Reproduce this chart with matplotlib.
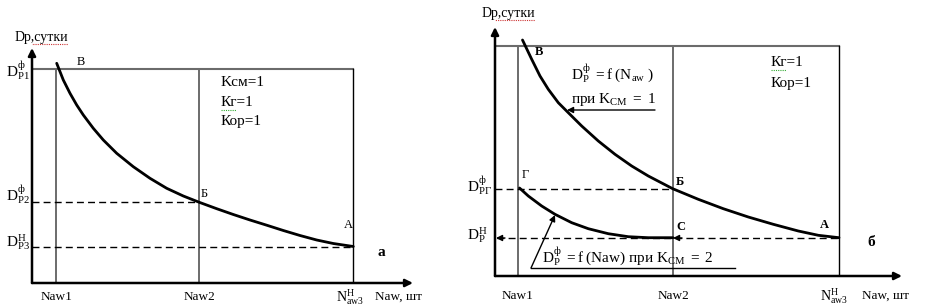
"""
schematic of service duration Dp versus the number of vehicles Naw:
panel a for one shift, panel b for one and two shifts
"""
import matplotlib
matplotlib.use('Agg')
import matplotlib.pyplot as plt

plt.rcParams['font.family'] = ['Liberation Serif', 'DejaVu Serif']
plt.rcParams['mathtext.fontset'] = 'custom'
plt.rcParams['mathtext.rm'] = 'Liberation Serif'
plt.rcParams['mathtext.it'] = 'Liberation Serif:italic'
plt.rcParams['mathtext.bf'] = 'Liberation Serif:bold'

# panel a, schematic units measured from the axis origin
A_NAW = [24, 167, 321]            # Naw1, Naw2, N^H_aw3
A_LEVELS = [214, 81, 36]          # D^ф_P1, D^ф_P2, D^H_P3
A_CURVE_N = [24.7, 31.3, 38, 44.7, 51.3, 61.3, 71.3, 84.7, 101.3, 118, 134.7, 151.3, 167,
             184.7, 201.3, 218, 234.7, 251.3, 268, 284.7, 301.3, 321.3]
A_CURVE_D = [219.7, 203, 189.7, 178, 168, 154.7, 143, 129.7, 116.3, 104.7, 94.7, 87, 80.8,
             74.3, 68.5, 63, 57.8, 52.5, 47.5, 43, 39.5, 36.5]

# panel b
B_NAW = [23, 178, 344]            # Naw1, Naw2, N^H_aw3
B_LEVELS = [230, 87, 38]          # top, D^ф_РГ, D^H_P
B_CURVE1_N = [27.5, 36.7, 45, 53.3, 63.3, 73.3, 86.7, 103.3, 120, 136.7, 153.3, 177.7,
              203.3, 228.3, 253.3, 278.3, 303.3, 323.3, 344]
B_CURVE1_D = [236, 216.7, 200, 186.7, 173.3, 163.3, 150, 135, 121.7, 110, 100, 87.3,
              76.7, 67.3, 59, 51.7, 45, 40.7, 38.3]
B_CURVE2_N = [24.5, 33.3, 46.7, 60, 76.7, 93.3, 113.3, 133.3, 153.3, 178]
B_CURVE2_D = [88, 80, 70, 61.7, 53.3, 47.3, 42.3, 39.3, 38.3, 38.3]

FRAME = '#6b6b6b'
W, H = 927, 308
fig = plt.figure(figsize=(W / 100, H / 100), dpi=100)


def make_axes(ox, oy, right, top):
    # one data unit is one pixel, origin at (ox, oy) in picture pixels
    ax = fig.add_axes([ox / W, (H - oy) / H, (right - ox) / W, (oy - top) / H])
    ax.set_xlim(0, right - ox)
    ax.set_ylim(0, oy - top)
    ax.axis('off')
    return ax


def axes_arrows(ax, x_end, y_end):
    for xy in [(x_end, 0), (0, y_end)]:
        ax.annotate('', xy=xy, xytext=(0, 0),
                    arrowprops=dict(arrowstyle='-|>', lw=1.8, color='black', mutation_scale=11,
                                    shrinkA=0, shrinkB=0))


def left_arrow(ax, x, y):
    ax.annotate('', xy=(x, y), xytext=(x + 9, y),
                arrowprops=dict(arrowstyle='-|>', lw=1, color='black', mutation_scale=9,
                                shrinkA=0, shrinkB=0))


def dlabel(ax, x, y, sup, sub, size=11):
    ax.text(x, y, r'$\mathrm{D}^{\mathrm{%s}}_{\mathrm{%s}}$' % (sup, sub), fontsize=size,
            ha='left', va='center', clip_on=False)


def curve(ax, n, d):
    ax.plot(n, d, color='black', lw=2, solid_joinstyle='round', solid_capstyle='round')


# ---------------- panel a
ax = make_axes(32, 283, 425, 20)
top = A_LEVELS[0]
ax.plot([0, A_NAW[2]], [top, top], color=FRAME, lw=1.5)
for n in A_NAW:
    ax.plot([n, n], [0, top], color=FRAME if n != A_NAW[2] else 'black', lw=1.4 if n != A_NAW[2] else 1.0)
ax.plot([0, A_NAW[1]], [A_LEVELS[1]] * 2, color='black', lw=1, ls=(0, (5, 3)))
ax.plot([0, A_NAW[2]], [A_LEVELS[2]] * 2, color='black', lw=1, ls=(0, (5, 3)))
curve(ax, A_CURVE_N, A_CURVE_D)
axes_arrows(ax, 381, 235)

ax.text(-17, 246, 'Dp,сутки', fontsize=10, ha='left', va='center')
ax.plot([-17, 36], [239, 239], color='#cc3333', lw=0.8, ls=(0, (1, 1)))
ax.text(45, 221, 'В', fontsize=9, ha='left', va='center')
ax.text(189, 200, 'Kсм=1', fontsize=11, ha='left', va='center')
ax.text(189, 181, 'Кг=1', fontsize=11, ha='left', va='center')
ax.text(189, 162, 'Кор=1', fontsize=11, ha='left', va='center')
ax.plot([189, 204], [173, 173], color='#33aa33', lw=0.8, ls=(0, (1, 1)))
dlabel(ax, -26, 212, 'ф', 'P1')
dlabel(ax, -26, 88, 'ф', 'P2')
dlabel(ax, -26, 41, 'H', 'P3')
ax.text(169, 89, 'Б', fontsize=9, ha='left', va='center')
ax.text(312, 58, 'А', fontsize=9, ha='left', va='center')
ax.text(346, 30, 'а', fontsize=11, fontweight='bold', ha='left', va='center')
ax.text(A_NAW[0] + 1, -14, 'Naw1', fontsize=9.5, ha='center', va='center')
ax.text(A_NAW[1], -14, 'Naw2', fontsize=9.5, ha='center', va='center')
ax.text(304, -14, r'$\mathrm{N}^{\mathrm{H}}_{\mathrm{aw3}}$', fontsize=10, ha='left', va='center')
ax.text(343, -14, 'Naw, шт', fontsize=9.5, ha='left', va='center', clip_on=False)

# ---------------- panel b
bx = make_axes(495, 276, 927, 4)
top = B_LEVELS[0]
bx.plot([0, B_NAW[2]], [top, top], color=FRAME, lw=1.5)
for n in B_NAW:
    bx.plot([n, n], [0, top], color=FRAME if n != B_NAW[2] else 'black', lw=1.4 if n != B_NAW[2] else 1.0)
bx.plot([0, B_NAW[1]], [B_LEVELS[1]] * 2, color='black', lw=1, ls=(0, (5, 3)))
bx.plot([2, B_NAW[2]], [B_LEVELS[2]] * 2, color='black', lw=1, ls=(0, (5, 3)))
left_arrow(bx, 1, B_LEVELS[2])
left_arrow(bx, B_NAW[1], B_LEVELS[2])
curve(bx, B_CURVE1_N, B_CURVE1_D)
curve(bx, B_CURVE2_N, B_CURVE2_D)
axes_arrows(bx, 407, 249)

bx.text(-13, 263, 'Dp,сутки', fontsize=10, ha='left', va='center')
bx.plot([-13, 40], [256, 256], color='#cc3333', lw=0.8, ls=(0, (1, 1)))
bx.text(40, 224, 'В', fontsize=9, fontweight='bold', ha='left', va='center')
bx.text(76, 202, r'$\mathrm{D}^{\mathrm{ф}}_{\mathrm{P}}\ = \mathrm{f\ (N_{aw}\ )}$', fontsize=11,
        ha='left', va='center')
bx.text(76, 176, r'$\mathrm{при\ K_{СМ}\ =\ 1}$', fontsize=11, ha='left', va='center')
bx.annotate('', xy=(72, 166), xytext=(160, 166),
            arrowprops=dict(arrowstyle='-|>', lw=1, color='black', mutation_scale=9, shrinkA=0, shrinkB=0))
bx.text(276, 214, 'Кг=1', fontsize=11, ha='left', va='center')
bx.text(276, 193, 'Кор=1', fontsize=11, ha='left', va='center')
bx.plot([276, 291], [206, 206], color='#33aa33', lw=0.8, ls=(0, (1, 1)))
bx.text(27, 101, 'Г', fontsize=9, ha='left', va='center')
bx.text(181, 94, 'Б', fontsize=9, fontweight='bold', ha='left', va='center')
bx.text(181, 49, 'С', fontsize=9, fontweight='bold', ha='left', va='center')
bx.text(325, 51, 'А', fontsize=9, fontweight='bold', ha='left', va='center')
bx.text(372, 33, 'б', fontsize=11, fontweight='bold', ha='left', va='center')
dlabel(bx, -28, 90, 'ф', 'РГ')
dlabel(bx, -28, 41, 'H', 'P')
bx.text(47, 19, r'$\mathrm{D}^{\mathrm{ф}}_{\mathrm{P}}\ = \mathrm{f\ (Naw)\ при\ K_{СМ}\ =\ 2}$', fontsize=11,
        ha='left', va='center')
bx.plot([36, 240], [8, 8], color='black', lw=1)
bx.annotate('', xy=(60, 61), xytext=(36, 8),
            arrowprops=dict(arrowstyle='-|>', lw=1, color='black', mutation_scale=9, shrinkA=0, shrinkB=0))
bx.text(B_NAW[0], -20, 'Naw1', fontsize=9.5, ha='center', va='center')
bx.text(B_NAW[1], -20, 'Naw2', fontsize=9.5, ha='center', va='center')
bx.text(325, -20, r'$\mathrm{N}^{\mathrm{H}}_{\mathrm{aw3}}$', fontsize=10, ha='left', va='center')
bx.text(367, -20, 'Naw, шт', fontsize=9.5, ha='left', va='center')

fig.savefig('out.png', dpi=100)
